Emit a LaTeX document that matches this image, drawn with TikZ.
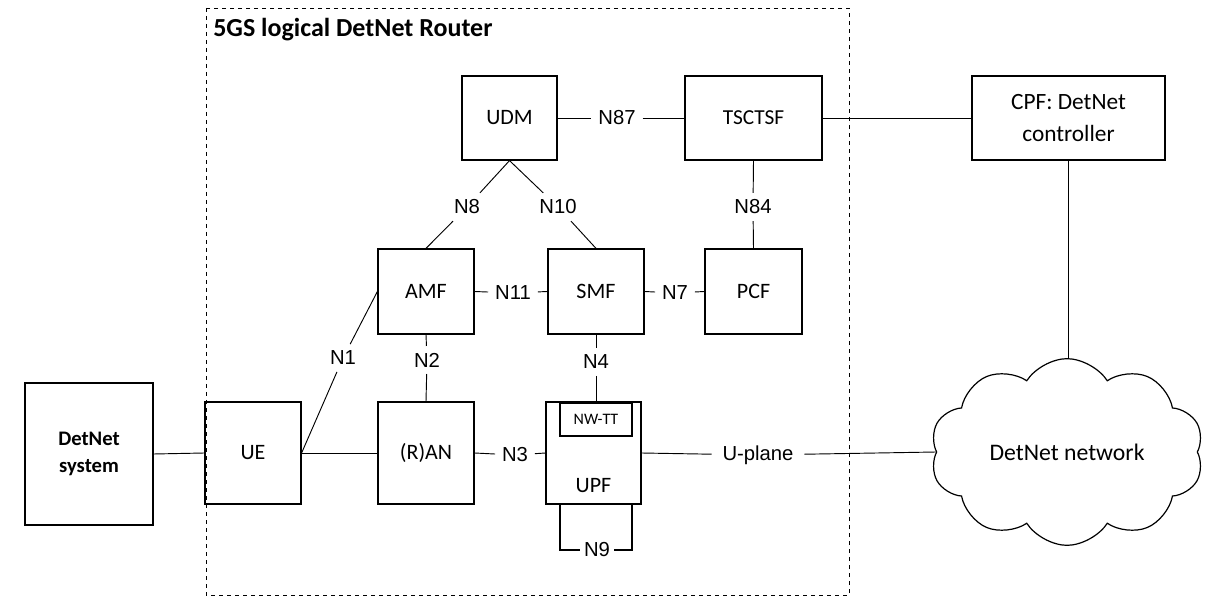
\documentclass[tikz,border=0pt]{standalone}
\usepackage{fontspec}
\setmainfont{Carlito}
\newfontfamily\arl{Liberation Sans}
\usetikzlibrary{shapes.symbols}
\begin{document}
\begin{tikzpicture}[x=0.75pt,y=-0.75pt,
  box/.style={draw,line width=0.9pt,inner sep=0pt,align=center,font=\fontsize{16.5}{20}\selectfont},
  lab/.style={inner sep=5pt,font=\arl\fontsize{15.2}{18}\selectfont},
  ln/.style={line width=0.7pt}]
\useasboundingbox (0,0) rectangle (1217,598);
% dashed router boundary
\draw[dashed,line width=0.7pt] (206,8) rectangle (849,595);
\node[anchor=base west,font=\bfseries\fontsize{19.5}{22}\selectfont,inner sep=0pt] (title) at (213,37) {5GS logical DetNet Router};
% boxes
\node[box,minimum width=96pt,minimum height=106.5pt,font=\bfseries\fontsize{15.5}{20}\selectfont] (sys) at (89,454) {DetNet\\system};
\node[box,minimum width=72pt,minimum height=76.5pt] (ue) at (253,453) {UE};
\node[box,minimum width=72pt,minimum height=76.5pt] (ran) at (426,453) {(R)AN};
\node[box,minimum width=71.25pt,minimum height=76.5pt,text depth=0pt] (upf) at (593.5,453) {};
\node[font=\fontsize{16.5}{20}\selectfont,inner sep=0pt] (upft) at (593.5,486) {UPF};
\node[draw,line width=0.9pt,minimum width=54pt,minimum height=24.75pt,inner sep=0pt,font=\fontsize{12}{14}\selectfont] (nwtt) at (596,419.5) {NW-TT};
\node[box,minimum width=72pt,minimum height=63.75pt] (amf) at (426,291.5) {AMF};
\node[box,minimum width=72pt,minimum height=63.75pt] (smf) at (596,291.5) {SMF};
\node[box,minimum width=72.75pt,minimum height=63.75pt] (pcf) at (753.5,291.5) {PCF};
\node[box,minimum width=71.25pt,minimum height=63pt] (udm) at (509.5,118) {UDM};
\node[box,minimum width=102.75pt,minimum height=63pt,font=\fontsize{16}{20}\selectfont] (tsctsf) at (753.5,118) {TSCTSF};
\node[box,minimum width=144.75pt,minimum height=63pt,font=\fontsize{17.5}{24}\selectfont] (cpf) at (1068.5,118) {CPF: DetNet\\controller};
\node[cloud,draw,line width=0.9pt,cloud puffs=10,cloud puff arc=115,cloud ignores aspect,minimum width=205pt,minimum height=140pt,inner sep=0pt,font=\fontsize{17.8}{20}\selectfont] (cloud) at (1067,452) {DetNet network};
% labels
\node[lab] (n87) at (617,118) {N87};
\node[lab] (n8) at (467,207) {N8};
\node[lab] (n10) at (558,207) {N10};
\node[lab] (n84) at (753,207) {N84};
\node[lab] (n11) at (513,293) {N11};
\node[lab] (n7) at (675,293) {N7};
\node[lab] (n1) at (343,358) {N1};
\node[lab] (n2) at (427,360) {N2};
\node[lab] (n4) at (596,362) {N4};
\node[lab] (n3) at (515,455) {N3};
\node[lab,inner sep=8pt] (uplane) at (758,455) {U-plane};
\node[lab,inner sep=3pt] (n9) at (597,550) {N9};
% connectors
\draw[ln] (sys.east) -- (ue.west);
\draw[ln] (ue.east) -- (ran.west);
\draw[ln] (ue.east) -- (n1) -- (amf.west);
\draw[ln] (amf.south) -- (n2) -- (ran.north);
\draw[ln] (ran.east) -- (n3) -- (upf.west);
\draw[ln] (smf.south) -- (n4) -- (upf.north -| smf.south);
\draw[ln] (amf.east) -- (n11) -- (smf.west);
\draw[ln] (smf.east) -- (n7) -- (pcf.west);
\draw[ln] (udm.south) -- (n8) -- (amf.north);
\draw[ln] (udm.south) -- (n10) -- (smf.north);
\draw[ln] (udm.east) -- (n87) -- (tsctsf.west);
\draw[ln] (tsctsf.south) -- (n84) -- (pcf.north);
\draw[ln] (tsctsf.east) -- (cpf.west);
\draw[ln] (cpf.south) -- (cloud.north -| cpf.south);
\draw[ln] (upf.east) -- (uplane) -- (cloud.west);
\coordinate (l1) at (560,504);
\coordinate (l2) at (632,504);
\draw[line width=0.9pt] (l1) |- (n9.west);
\draw[line width=0.9pt] (l2) |- (n9.east);
\end{tikzpicture}
\end{document}
